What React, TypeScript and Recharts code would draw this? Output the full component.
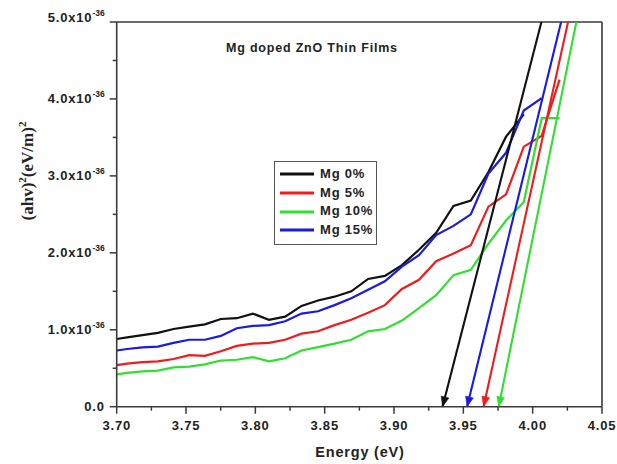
import React from 'react';
import { LineChart, Line, XAxis, YAxis, ReferenceLine, Customized } from 'recharts';

// Photon energy (eV) of the measured points
const energy = [
  3.7, 3.7075, 3.7186, 3.7297, 3.741, 3.7523, 3.7636, 3.7751, 3.7866, 3.7982,
  3.8098, 3.8215, 3.8333, 3.8452, 3.8571, 3.8692, 3.8813, 3.8934, 3.9057, 3.918,
  3.9304, 3.9429, 3.9554, 3.9681, 3.9808, 3.9936, 4.0065, 4.0194,
];

// (ahv)^2 in units of 1e-36 (eV/m)^2
const mg0 = [
  0.88, 0.9, 0.93, 0.96, 1.01, 1.04, 1.07, 1.14, 1.15, 1.21,
  1.13, 1.17, 1.31, 1.38, 1.43, 1.5, 1.66, 1.7, 1.84, 2.04,
  2.26, 2.61, 2.68, 3.05, 3.51, 3.8,
];
const mg5 = [
  0.54, 0.56, 0.58, 0.59, 0.62, 0.67, 0.66, 0.72, 0.79, 0.82,
  0.83, 0.87, 0.95, 0.98, 1.06, 1.13, 1.22, 1.32, 1.53, 1.65,
  1.89, 1.99, 2.1, 2.6, 2.76, 3.38, 3.52, 4.25,
];
const mg10 = [
  0.42, 0.44, 0.46, 0.47, 0.51, 0.52, 0.55, 0.6, 0.61, 0.645,
  0.59, 0.63, 0.73, 0.775, 0.82, 0.87, 0.98, 1.01, 1.12, 1.28,
  1.45, 1.71, 1.78, 2.12, 2.42, 2.66, 3.75, 3.75,
];
const mg15 = [
  0.73, 0.75, 0.77, 0.78, 0.83, 0.87, 0.87, 0.92, 1.02, 1.05,
  1.06, 1.11, 1.21, 1.24, 1.32, 1.41, 1.52, 1.63, 1.82, 1.97,
  2.23, 2.35, 2.5, 3.03, 3.3, 3.85, 4.01,
];

// Linear extrapolation lines (band-gap intercepts)
const fitMg0X = [3.935, 4.0063];
const fitMg5X = [3.9646, 4.0255];
const fitMg10X = [3.9755, 4.0315];
const fitMg15X = [3.9527, 4.0205];
const fitY = [0, 5];

const seriesNames = ['Mg 0%', 'Mg 5%', 'Mg 10%', 'Mg 15%'];
const seriesColors = ['#111111', '#f01c1c', '#2fe02f', '#1a1ae0'];

const xMajorTicks = [3.7, 3.75, 3.8, 3.85, 3.9, 3.95, 4.0, 4.05];
const xMinorTicks = [3.725, 3.775, 3.825, 3.875, 3.925, 3.975, 4.025];
const yMajorTicks = [0, 1, 2, 3, 4, 5];
const yMinorTicks = [0.5, 1.5, 2.5, 3.5, 4.5];
const yTickExponent = '-36';
const titleText = 'Mg doped ZnO Thin Films';
const xLabelText = 'Energy (eV)';

const SANS = "'Liberation Sans', Arial, Helvetica, sans-serif";
const SERIF = "'Liberation Serif', 'Times New Roman', serif";
const AXIS = '#3a3a3a';
const TEXT = '#222';

const zip = (xs: number[], ys: number[]) => ys.map((y, i) => ({ x: xs[i], y }));

const curveData = [mg0, mg5, mg10, mg15].map((ys) => zip(energy, ys));
const fitData = [fitMg0X, fitMg5X, fitMg10X, fitMg15X].map((xs) => zip(xs, fitY));

const isMajor = (v: number, majors: number[]) => majors.some((m) => Math.abs(m - v) < 1e-6);

const XTick = (props: any) => {
  const { x, y, payload } = props;
  const v = payload.value;
  const major = isMajor(v, xMajorTicks);
  return (
    <g>
      <line x1={x} x2={x} y1={y} y2={y + (major ? 7 : 4)} stroke={AXIS} strokeWidth={1.5} />
      {major && (
        <text
          x={x}
          y={y + 23.5}
          textAnchor="middle"
          fontFamily={SANS}
          fontWeight="bold"
          fontSize={13}
          letterSpacing={0.8}
          fill={TEXT}
        >
          {v.toFixed(2)}
        </text>
      )}
    </g>
  );
};

const YTick = (props: any) => {
  const { x, y, payload } = props;
  const v = payload.value;
  const major = isMajor(v, yMajorTicks);
  const shift = v === 5 ? -5 : 0;
  return (
    <g>
      <line x1={x} x2={x - (major ? 7 : 4)} y1={y} y2={y} stroke={AXIS} strokeWidth={1.5} />
      {major && (
        <text
          x={x - 12}
          y={y + 4.5 + shift}
          textAnchor="end"
          fontFamily={SANS}
          fontWeight="bold"
          fontSize={13}
          letterSpacing={0.8}
          fill={TEXT}
        >
          {v === 0 ? (
            '0.0'
          ) : (
            <>
              {v.toFixed(1) + 'x10'}
              <tspan dy={-6} fontSize={8.5} letterSpacing={0}>
                {yTickExponent}
              </tspan>
            </>
          )}
        </text>
      )}
    </g>
  );
};

const makeArrow = (color: string) => (props: any) => {
  const { cx, cy, index, points } = props;
  if (index !== 0 || cx == null || cy == null) return <g key={`a-${index}`} />;
  let ux = 0.24;
  let uy = -0.97;
  if (points && points.length > 1) {
    const dx = points[1].x - points[0].x;
    const dy = points[1].y - points[0].y;
    const len = Math.sqrt(dx * dx + dy * dy) || 1;
    ux = dx / len;
    uy = dy / len;
  }
  const L = 10;
  const W = 4;
  const bx = cx + ux * L;
  const by = cy + uy * L;
  const px = -uy;
  const py = ux;
  const d = `M${cx},${cy} L${bx + px * W},${by + py * W} L${bx - px * W},${by - py * W} Z`;
  return <path key={`a-${index}`} d={d} fill={color} stroke={color} strokeWidth={0.5} />;
};

const Labels = () => (
  <g>
    <text x={226} y={52.3} fontFamily={SANS} fontWeight="bold" fontSize={12.5} letterSpacing={0.8} fill={TEXT}>
      {titleText}
    </text>
    <text x={360} y={457} textAnchor="middle" fontFamily={SANS} fontWeight="bold" fontSize={14.5} letterSpacing={0.8} fill={TEXT}>
      {xLabelText}
    </text>
    <text
      x={33}
      y={171}
      transform="rotate(-90, 33, 171)"
      textAnchor="middle"
      fontFamily={SERIF}
      fontWeight="bold"
      fontSize={17}
      fill={TEXT}
    >
      (ahv)
      <tspan dy={-7} fontSize={11}>2</tspan>
      <tspan dy={7}>(eV/m)</tspan>
      <tspan dy={-7} fontSize={11}>2</tspan>
    </text>
  </g>
);

export default function App() {
  return (
    <div style={{ position: 'absolute', left: 0, top: 0, width: 617, height: 464 }}>
      <LineChart width={617} height={464} margin={{ top: 22, right: 15, bottom: 12.3, left: 0 }}>
        <XAxis
          type="number"
          dataKey="x"
          domain={[3.7, 4.05]}
          ticks={[...xMajorTicks, ...xMinorTicks].sort((a, b) => a - b)}
          interval={0}
          tick={<XTick />}
          tickSize={0}
          tickMargin={0}
          tickLine={false}
          axisLine={{ stroke: AXIS, strokeWidth: 1.6 }}
          allowDataOverflow
          height={45}
        />
        <YAxis
          type="number"
          dataKey="y"
          domain={[0, 5]}
          ticks={[...yMajorTicks, ...yMinorTicks].sort((a, b) => a - b)}
          interval={0}
          tick={<YTick />}
          tickSize={0}
          tickMargin={0}
          tickLine={false}
          axisLine={{ stroke: AXIS, strokeWidth: 1.6 }}
          allowDataOverflow
          width={116.7}
        />
        <ReferenceLine y={5} stroke={AXIS} strokeWidth={1.6} ifOverflow="visible" />
        <ReferenceLine x={4.05} stroke={AXIS} strokeWidth={1.6} ifOverflow="visible" />
        {curveData.map((d, i) => (
          <Line
            key={`c-${i}`}
            data={d}
            dataKey="y"
            name={seriesNames[i]}
            type="linear"
            stroke={seriesColors[i]}
            strokeWidth={2.2}
            dot={false}
            activeDot={false}
            isAnimationActive={false}
          />
        ))}
        {fitData.map((d, i) => (
          <Line
            key={`f-${i}`}
            data={d}
            dataKey="y"
            name={`${seriesNames[i]} fit`}
            legendType="none"
            type="linear"
            stroke={seriesColors[i]}
            strokeWidth={2.1}
            dot={makeArrow(seriesColors[i])}
            activeDot={false}
            isAnimationActive={false}
          />
        ))}
        <Customized component={Labels} />
      </LineChart>
      <div
        style={{
          position: 'absolute',
          left: 274,
          top: 161,
          width: 103,
          height: 84,
          boxSizing: 'border-box',
          border: '1.5px solid #555',
          background: '#fff',
          paddingTop: 3,
        }}
      >
        {seriesNames.map((name, i) => (
          <div key={name} style={{ height: 18.7, display: 'flex', alignItems: 'center' }}>
            <svg width={40} height={6} style={{ display: 'block', marginLeft: 5 }}>
              <line x1={0} x2={34} y1={3} y2={3} stroke={seriesColors[i]} strokeWidth={3} />
            </svg>
            <span
              style={{
                fontFamily: SANS,
                fontWeight: 'bold',
                fontSize: 13,
                letterSpacing: 0.8,
                color: TEXT,
                lineHeight: '18.7px',
              }}
            >
              {name}
            </span>
          </div>
        ))}
      </div>
    </div>
  );
}
